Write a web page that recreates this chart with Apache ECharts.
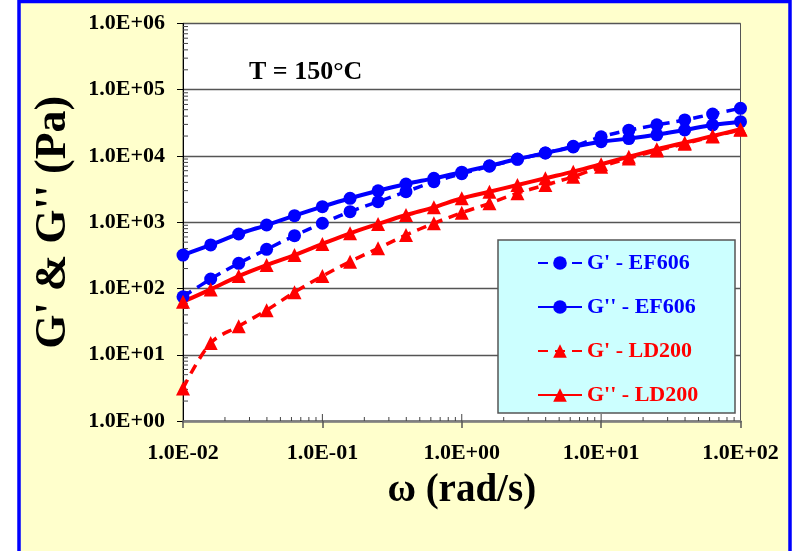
<!DOCTYPE html>
<html>
<head>
<meta charset="utf-8">
<script src="https://cdn.jsdelivr.net/npm/echarts@6/dist/echarts.min.js"></script>
<style>
  html, body { margin: 0; padding: 0; background: #fff; }
  #chart { width: 794px; height: 551px; }
</style>
</head>
<body>
<div id="chart"></div>
<script>
// Angular frequency (rad/s), five points per decade
const omega = [0.01, 0.0158, 0.0251, 0.0398, 0.0631, 0.1, 0.158, 0.251, 0.398, 0.631,
               1, 1.58, 2.51, 3.98, 6.31, 10, 15.8, 25.1, 39.8, 63.1, 100];

// Storage modulus G' and loss modulus G'' (Pa)
const gPrimeEF606  = [75, 139, 240, 390, 627, 965, 1443, 2040, 2890, 4090,
                      5400, 7000, 8900, 11100, 14000, 19500, 24500, 29500, 35000, 43000, 52500];
const gDoubleEF606 = [320, 454, 665, 908, 1256, 1718, 2300, 2990, 3780, 4600,
                      5700, 7100, 9000, 11100, 13700, 16400, 18300, 20900, 24700, 29400, 33000];
const gPrimeLD200  = [3.1, 15, 27, 47, 88, 154, 254, 404, 642, 964,
                      1393, 1930, 2740, 3650, 4870, 6900, 9200, 12100, 15300, 19700, 24800];
const gDoubleLD200 = [63, 97, 154, 226, 320, 470, 681, 942, 1286, 1680,
                      2300, 2890, 3650, 4610, 5800, 7500, 9770, 12600, 15900, 20000, 25300];

const seriesNames = ["G' - EF606", "G'' - EF606", "G' - LD200", "G'' - LD200"];

// Decade tick labels
const xTickLabels = ['1.0E-02', '1.0E-01', '1.0E+00', '1.0E+01', '1.0E+02'];
const yTickLabels = ['1.0E+00', '1.0E+01', '1.0E+02', '1.0E+03', '1.0E+04', '1.0E+05', '1.0E+06'];

const X_MIN = 0.01, X_MAX = 100, Y_MIN = 1, Y_MAX = 1e6;
const FONT = "'Liberation Serif', 'Times New Roman', serif";
const BLUE = '#0000FF', RED = '#FF0000';

const pairs = ys => omega.map((x, i) => [x, ys[i]]);

// Minor tick positions at 2..9 x 10^k
function minorValues(lo, hi) {
  const out = [];
  for (let e = Math.round(Math.log10(lo)); e < Math.round(Math.log10(hi)); e++) {
    for (let m = 2; m <= 9; m++) out.push(m * Math.pow(10, e));
  }
  return out;
}
const xInnerTicks = minorValues(X_MIN, X_MAX).map(v => [v, Y_MIN]);
const xMajorInner = [0.1, 1, 10].map(v => [v, Y_MIN]);
const yInnerTicks = minorValues(Y_MIN, Y_MAX).map(v => [X_MIN, v]);

const chart = echarts.init(document.getElementById('chart'), null, { renderer: 'canvas' });

function lineSeries(name, data, color, symbol, size, dashed) {
  return {
    name, type: 'line', data: pairs(data),
    symbol, symbolSize: size, smooth: 0.35,
    itemStyle: { color },
    lineStyle: { color, width: dashed ? 3.5 : 4, type: dashed ? [10, 7] : 'solid' },
    z: 3
  };
}

chart.setOption({
  animation: false,
  backgroundColor: '#ffffff',
  graphic: [
    {
      type: 'rect', z: -10, silent: true,
      shape: { x: 19, y: 1.5, width: 771, height: 600 },
      style: { fill: '#FFFFCC', stroke: BLUE, lineWidth: 3.5 }
    },
    {
      type: 'rect', z: 3, silent: true,
      shape: { x: 498, y: 240, width: 237, height: 173 },
      style: { fill: '#CCFFFF', stroke: '#555555', lineWidth: 1.5 }
    }
  ],
  title: {
    text: 'T = 150°C',
    left: 249, top: 59, padding: 0,
    textStyle: { fontFamily: FONT, fontWeight: 'bold', fontSize: 26, color: '#000' }
  },
  grid: {
    left: 183, right: 53.5, top: 23.5, bottom: 130,
    show: true, backgroundColor: '#ffffff', borderColor: '#555555', borderWidth: 1
  },
  legend: {
    orient: 'vertical',
    left: 537, top: 252, padding: 0,
    itemWidth: 44, itemHeight: 17, itemGap: 22,
    textStyle: { fontFamily: FONT, fontWeight: 'bold', fontSize: 22, lineHeight: 22 },
    selectedMode: false,
    data: seriesNames.map((n, i) => ({
      name: n,
      textStyle: { color: i < 2 ? BLUE : RED }
    })),
    z: 5
  },
  xAxis: {
    type: 'log', logBase: 10, min: X_MIN, max: X_MAX,
    name: 'ω (rad/s)', nameLocation: 'middle', nameGap: 50,
    nameTextStyle: { fontFamily: FONT, fontWeight: 'bold', fontSize: 39, color: '#000' },
    axisLine: { show: true, onZero: false, lineStyle: { color: '#808080', width: 2.5 } },
    axisTick: { show: true, inside: false, length: 7, lineStyle: { color: '#555', width: 1.5 } },
    axisLabel: {
      fontFamily: FONT, fontWeight: 'bold', fontSize: 22, color: '#000', margin: 21,
      formatter: v => xTickLabels[Math.round(Math.log10(v)) + 2]
    },
    splitLine: { show: false }
  },
  yAxis: {
    type: 'log', logBase: 10, min: Y_MIN, max: Y_MAX,
    name: "G' & G'' (Pa)", nameLocation: 'middle', nameGap: 107, nameRotate: 90,
    nameTextStyle: { fontFamily: FONT, fontWeight: 'bold', fontSize: 44, color: '#000' },
    axisLine: { show: true, onZero: false, lineStyle: { color: '#000', width: 1 } },
    axisTick: { show: true, inside: false, length: 6, lineStyle: { color: '#000', width: 1 } },
    axisLabel: {
      fontFamily: FONT, fontWeight: 'bold', fontSize: 22, color: '#000', margin: 18,
      formatter: v => yTickLabels[Math.round(Math.log10(v))]
    },
    splitLine: { show: true, lineStyle: { color: '#555555', width: 1.3 } }
  },
  series: [
    lineSeries(seriesNames[0], gPrimeEF606, BLUE, 'circle', 13, true),
    lineSeries(seriesNames[1], gDoubleEF606, BLUE, 'circle', 13, false),
    lineSeries(seriesNames[2], gPrimeLD200, RED, 'triangle', 14, true),
    lineSeries(seriesNames[3], gDoubleLD200, RED, 'triangle', 14, false),
    {
      // inner minor ticks along the bottom axis
      type: 'custom', silent: true, clip: false, z: 2,
      data: xInnerTicks.concat(xMajorInner),
      renderItem: (params, api) => {
        const p = api.coord([api.value(0), api.value(1)]);
        const len = params.dataIndex >= xInnerTicks.length ? 7 : 4;
        return { type: 'line', shape: { x1: p[0], y1: p[1], x2: p[0], y2: p[1] - len },
                 style: { stroke: '#444', lineWidth: 1 } };
      }
    },
    {
      // inner minor ticks along the left axis
      type: 'custom', silent: true, clip: false, z: 2,
      data: yInnerTicks,
      renderItem: (params, api) => {
        const p = api.coord([api.value(0), api.value(1)]);
        return { type: 'line', shape: { x1: p[0], y1: p[1], x2: p[0] + 5, y2: p[1] },
                 style: { stroke: '#444', lineWidth: 1 } };
      }
    }
  ]
});
</script>
</body>
</html>
